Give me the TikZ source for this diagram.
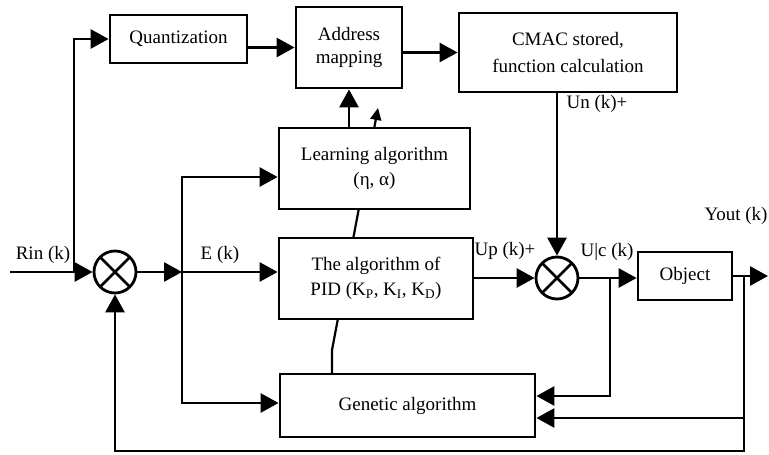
\documentclass[tikz,border=0pt]{standalone}
\usepackage{fontspec}
\setmainfont{Liberation Serif}
\usetikzlibrary{arrows.meta,calc}
\begin{document}
\begin{tikzpicture}[x=1pt,y=-1pt,
  every node/.style={font=\fontsize{19}{23}\selectfont, inner sep=0pt},
  blk/.style={draw, line width=2.8pt, fill=white, align=center},
  sumc/.style={draw, circle, line width=2.8pt, fill=white, minimum size=42pt,
    path picture={\draw[line width=2.8pt]
      (path picture bounding box.north west) -- (path picture bounding box.south east)
      (path picture bounding box.north east) -- (path picture bounding box.south west);}},
  ln/.style={line width=2.8pt},
  arr/.style={ln, -{Triangle[length=18pt,width=19pt]}},
  tune/.style={line width=2.2pt, -{Triangle[length=12pt,width=11pt]}}]
\useasboundingbox (0,0) rectangle (769,455);

% tuning (adjustment) arrow passing behind the boxes
\coordinate (tA) at (332,373);
\coordinate (tB) at (332,350);
\coordinate (tC) at (378,108);
\draw[tune] (tA) -- (tB) -- (tC);

% blocks
\node[blk, minimum width=137pt, minimum height=48pt] (quant) at (178.5,39) {Quantization};
\node[blk, minimum width=106pt, minimum height=81pt] (addr) at (349,47.5) {Address\\mapping};
\node[blk, minimum width=218pt, minimum height=79pt] (cmac) at (568,52.5) {CMAC stored,\\[4pt]function calculation};
\node[blk, minimum width=191pt, minimum height=81pt] (learn) at (374.5,168.5) {Learning algorithm\\[2pt](η, α)};
\node[blk, minimum width=194pt, minimum height=81pt] (pid) at (376,278.5) {The algorithm of\\[2pt]PID (K\textsubscript{P}, K\textsubscript{I}, K\textsubscript{D})};
\node[blk, minimum width=255pt, minimum height=63pt] (gen) at (407.5,405.5) {Genetic algorithm};
\node[blk, minimum width=94pt, minimum height=48pt] (obj) at (685,276) {Object};
\node[sumc] (s1) at (115,272) {};
\node[sumc] (s2) at (557,278) {};

% coordinates
\coordinate (in) at (10,272);
\coordinate (jR) at (74,272);
\coordinate (jE) at (182,272);
\coordinate (eL) at (182,177);
\coordinate (eG) at (182,403);
\coordinate (jU) at (610,278);
\coordinate (uG) at (610,396);
\coordinate (jY) at (744,276);
\coordinate (out) at (768,276);
\coordinate (yG) at (744,418);
\coordinate (yB) at (744,451);
\coordinate (sB) at (115,451);

% connectors
\draw[arr] (in) -- (s1.west);
\draw[arr] (jR) |- (quant.west);
\draw[arr] (quant.east |- addr.west) -- (addr.west);
\draw[arr] (addr.east |- cmac.west) -- (cmac.west);
\draw[arr] (addr.south |- learn.north) -- (addr.south);
\draw[arr] (s1.east) -- (jE);
\draw[arr] (jE) -- (eL) -- (eL -| learn.west);
\draw[arr] (jE) -- (jE -| pid.west);
\draw[arr] (jE) -- (eG) -- (eG -| gen.west);
\draw[arr] (s2.west -| pid.east) -- (s2.west);
\draw[arr] (s2.north |- cmac.south) -- (s2.north);
\draw[arr] (s2.east) -- (s2.east -| obj.west);
\draw[arr] (jU) -- (uG) -- (uG -| gen.east);
\draw[arr] (obj.east) -- (out);
\draw[arr] (yG) -- (yG -| gen.east);
\draw[arr] (jY) -- (yB) -- (sB) -- (s1.south);

% labels
\node (lRin) at (43,255) {Rin (k)};
\node (lE) at (220,255) {E (k)};
\node (lUp) at (505,251) {Up (k)+};
\node (lUc) at (607,252) {U|c (k)};
\node (lY) at (736,216) {Yout (k)};
\node (lUn) at (597,104) {Un (k)+};
\end{tikzpicture}
\end{document}
